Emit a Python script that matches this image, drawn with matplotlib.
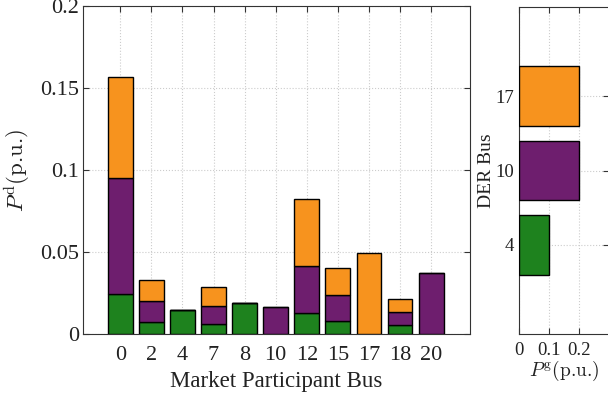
import numpy as np
import matplotlib
matplotlib.use("Agg")
import matplotlib.pyplot as plt

# market participant buses and their stacked demand (p.u.)
buses = ["0", "2", "4", "7", "8", "10", "12", "15", "17", "18", "20"]
p_green = [0.0245, 0.0072, 0.0145, 0.0063, 0.0190, 0.0, 0.0127, 0.0082, 0.0, 0.0055, 0.0]
p_purple = [0.0705, 0.0130, 0.0, 0.0110, 0.0, 0.0162, 0.0290, 0.0157, 0.0, 0.0078, 0.0373]
p_orange = [0.0620, 0.0130, 0.0, 0.0113, 0.0, 0.0, 0.0405, 0.0163, 0.0495, 0.0083, 0.0]

# DER buses and their generation (p.u.)
der_buses = ["4", "10", "17"]
der_gen = [0.1, 0.2, 0.2]

green = "#1e821e"
purple = "#6e1e6e"
orange = "#f7931e"
der_colors = [green, purple, orange]

plt.rcParams["font.family"] = ["Liberation Serif", "DejaVu Serif"]
plt.rcParams["mathtext.fontset"] = "cm"

fig = plt.figure(figsize=(6.08, 4.00), dpi=100)

# --- main stacked bar chart ---
ax = fig.add_axes([0.1365, 0.165, 0.6365, 0.82])
x = np.arange(len(buses))
g = np.array(p_green)
p = np.array(p_purple)
o = np.array(p_orange)
kw = dict(width=0.8, edgecolor="black", linewidth=1.0, zorder=3)
ax.bar(x, g, color=green, **kw)
ax.bar(x, p, bottom=g, color=purple, **kw)
ax.bar(x, o, bottom=g + p, color=orange, **kw)

ax.set_xlim(-1.2, 11.25)
ax.set_ylim(0, 0.2)
ax.set_xticks(x)
ax.set_xticklabels(buses)
ax.set_yticks([0, 0.05, 0.1, 0.15, 0.2])
ax.set_yticklabels(["0", "0.05", "0.1", "0.15", "0.2"])
ax.tick_params(direction="in", top=True, right=True, labelsize=16, length=4, color="#333333",
               labelcolor="#222222")
ax.tick_params(axis="x", pad=9)
ax.tick_params(axis="y", pad=3)
ax.grid(True, linestyle=":", color="#cccccc", linewidth=0.8, zorder=0)
ax.set_xlabel("Market Participant Bus", fontsize=16.5, labelpad=4, color="#222222")
ax.set_ylabel(r"$P^{\rm d}$(p.u.)", fontsize=16.5, labelpad=5, color="#222222",
              family=["cmr10", "DejaVu Serif"])
for s in ax.spines.values():
    s.set_color("#333333")

# --- DER generation horizontal bars ---
ax2 = fig.add_axes([0.854, 0.165, 0.148, 0.8175])
y = np.arange(1, len(der_buses) + 1)
ax2.barh(y, der_gen, height=0.8, color=der_colors, edgecolor="black", linewidth=1.0, zorder=3)
ax2.set_xlim(0, 0.3)
ax2.set_ylim(-0.2, 4.2)
ax2.set_yticks(y)
ax2.set_yticklabels(der_buses)
ax2.set_xticks([0, 0.1, 0.2])
ax2.set_xticklabels(["0", "0.1", "0.2"])
ax2.tick_params(direction="in", top=True, right=True, labelsize=13.5, length=4, color="#333333",
                labelcolor="#222222")
ax2.tick_params(axis="x", pad=6)
ax2.tick_params(axis="y", pad=4)
ax2.grid(True, linestyle=":", color="#cccccc", linewidth=0.8, zorder=0)
ax2.set_xlabel(r"$P^{\rm g}$(p.u.)", fontsize=14, labelpad=0, color="#222222",
               family=["cmr10", "DejaVu Serif"])
ax2.set_ylabel("DER Bus", fontsize=14, labelpad=0, color="#222222")
for s in ax2.spines.values():
    s.set_color("#333333")

fig.savefig("out.png", dpi=100)
